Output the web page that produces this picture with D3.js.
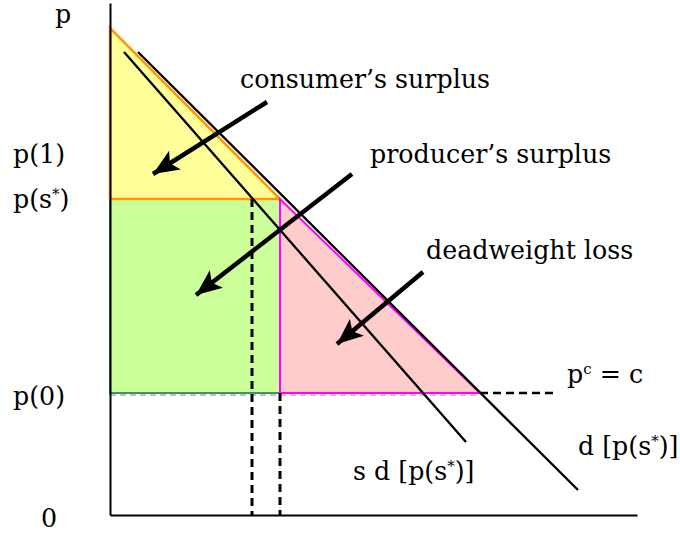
<!DOCTYPE html>
<html>
<head>
<meta charset="utf-8">
<style>
  body { margin: 0; background: #fff; }
  text { font-family: "DejaVu Serif", serif; font-size: 25.3px; fill: #000; }
</style>
</head>
<body>
<script src="https://cdn.jsdelivr.net/npm/d3@7"></script>
<script type="text/javascript">
    // price levels and quantities (abstract units)
    var pTop = 48.7, pStar = 31.6, p0 = 12.2;
    var qS = 14.2, qStar = 17, qC = 37, qDashEnd = 44.5;

    var yellowTri = [[0, pTop], [0, pStar], [qStar, pStar]];
    var greenRect = [[0, pStar], [qStar, pStar], [qStar, p0], [0, p0]];
    var pinkTri = [[qStar, pStar], [qStar, p0], [qC, p0]];

    var demandLine = [[2.8, 46.3], [46.8, 2.5]];
    var sdLine = [[1.4, 46.3], [35.6, 7.3]];

    var arrows = [
        { from: [15.7, 41.3], to: [4.3, 34.1] },
        { from: [24.2, 34.1], to: [8.6, 22.0] },
        { from: [31.3, 24.3], to: [22.7, 17.1] }
    ];

    // label text split as [before star, star, after star]
    var yLabels = [
        { parts: ["p"], v: 51.2, dy: 20, x: 55 },
        { parts: ["p(1)"], v: 36.0, dy: 8, x: 13 },
        { parts: ["p(s", "*", ")"], v: pStar, dy: 9, x: 13 },
        { parts: ["p(0)"], v: p0, dy: 12, x: 13 },
        { parts: ["0"], v: 0, dy: 12, x: 41 }
    ];

    var notes = [
        { parts: ["consumer\u2019s surplus"], x: 13, y: 42.7 },
        { parts: ["producer\u2019s surplus"], x: 26, y: 35.2 },
        { parts: ["deadweight loss"], x: 31.6, y: 25.6 },
        { parts: ["p", "c", " = c"], x: 45.7, y: 13.2 },
        { parts: ["d [p(s", "*", ")]"], x: 46.8, y: 6.0 },
        { parts: ["s d [p(s", "*", ")]"], x: 24.3, y: 3.5 }
    ];

    var width = 680, height = 533;
    var svg = d3.select('body').append('svg')
        .attr('width', width).attr('height', height);

    var x = d3.scaleLinear().domain([0, 52.7]).range([110, 637]);
    var y = d3.scaleLinear().domain([0, 51.2]).range([515, 3]);
    var line = d3.line().x(function (d) { return x(d[0]); }).y(function (d) { return y(d[1]); });

    // areas
    svg.append('path').datum(greenRect).attr('d', line.curve(d3.curveLinearClosed))
        .attr('fill', '#ccff99').attr('stroke', '#339966').attr('stroke-width', 2);
    svg.append('path').datum(yellowTri).attr('d', line)
        .attr('fill', '#ffff99').attr('stroke', '#ff9900').attr('stroke-width', 2.5);
    svg.append('path').datum(pinkTri).attr('d', line)
        .attr('fill', '#ffcccc').attr('stroke', '#ff00ff').attr('stroke-width', 2);
    line.curve(d3.curveLinear);

    // p(0) dashed line
    svg.append('line')
        .attr('x1', x(0)).attr('x2', x(qC))
        .attr('y1', y(p0) + 2).attr('y2', y(p0) + 2)
        .attr('stroke', '#888').attr('stroke-width', 1.2).attr('stroke-dasharray', '6,4');
    svg.append('line')
        .attr('x1', x(qC)).attr('x2', x(qDashEnd))
        .attr('y1', y(p0)).attr('y2', y(p0))
        .attr('stroke', '#000').attr('stroke-width', 2.5).attr('stroke-dasharray', '8,5');

    // vertical dashed quantities
    [[qS, pStar], [qStar, p0]].forEach(function (d) {
        svg.append('line')
            .attr('x1', x(d[0])).attr('x2', x(d[0]))
            .attr('y1', y(d[1])).attr('y2', y(0))
            .attr('stroke', '#000').attr('stroke-width', 3).attr('stroke-dasharray', '8,5');
    });

    // demand curves
    [demandLine, sdLine].forEach(function (d) {
        svg.append('path').datum(d).attr('d', line)
            .attr('fill', 'none').attr('stroke', '#000').attr('stroke-width', 2.3);
    });

    // axes
    svg.append('g').attr('transform', 'translate(0,' + y(0) + ')')
        .call(d3.axisBottom(x).tickValues([]).tickSizeOuter(0))
        .select('.domain').attr('stroke-width', 2);
    svg.append('g').attr('transform', 'translate(' + x(0) + ',0)')
        .call(d3.axisLeft(y).tickValues([]).tickSizeOuter(0))
        .select('.domain').attr('stroke-width', 2);

    // arrows
    svg.append('defs').append('marker')
        .attr('id', 'head').attr('markerUnits', 'userSpaceOnUse')
        .attr('markerWidth', 30).attr('markerHeight', 24)
        .attr('refX', 26).attr('refY', 11).attr('orient', 'auto')
        .append('path').attr('d', 'M0,0 L26,11 L0,22 L6,11 Z').attr('fill', '#000');
    svg.selectAll('.arrow').data(arrows).enter().append('line')
        .attr('class', 'arrow')
        .attr('x1', function (d) { return x(d.from[0]); })
        .attr('y1', function (d) { return y(d.from[1]); })
        .attr('x2', function (d) { return x(d.to[0]); })
        .attr('y2', function (d) { return y(d.to[1]); })
        .attr('stroke', '#000').attr('stroke-width', 4.5)
        .attr('marker-end', 'url(#head)');

    function writeParts(sel) {
        sel.each(function (d) {
            var t = d3.select(this);
            d.parts.forEach(function (p, i) {
                var s = t.append('tspan').text(p);
                if (i === 1) s.attr('dy', -9).attr('font-size', 15);
                if (i === 2) s.attr('dy', 9);
            });
        });
    }

    // y labels
    svg.selectAll('.ylab').data(yLabels).enter().append('text')
        .attr('x', function (d) { return d.x; })
        .attr('y', function (d) { return y(d.v) + d.dy; })
        .call(writeParts);

    // notes
    svg.selectAll('.note').data(notes).enter().append('text')
        .attr('x', function (d) { return x(d.x); })
        .attr('y', function (d) { return y(d.y); })
        .call(writeParts);
</script>
</body>
</html>
